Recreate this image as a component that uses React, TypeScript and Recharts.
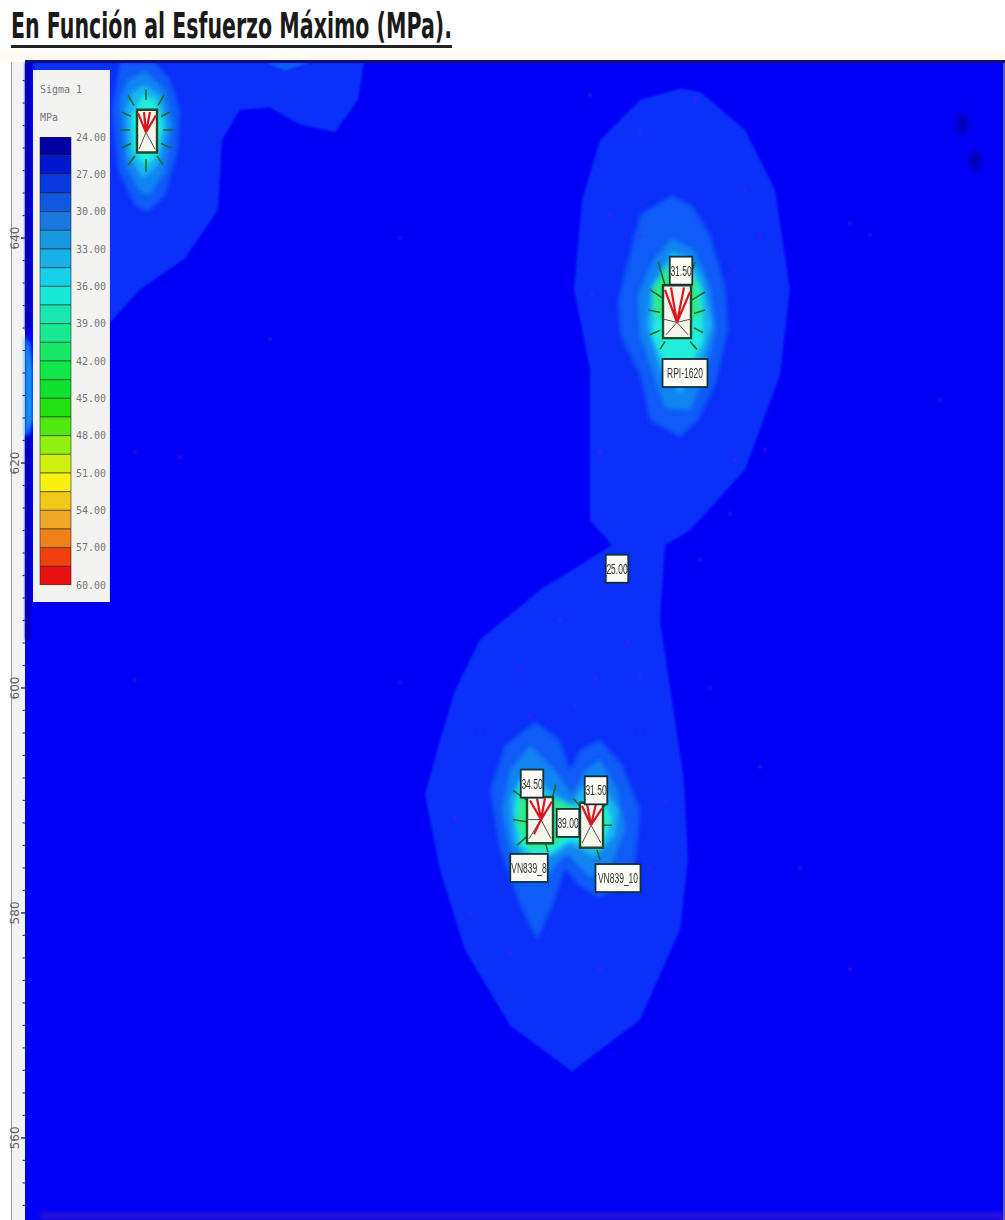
import { Bar, BarChart, Scatter, ScatterChart, XAxis, YAxis } from "recharts";

// x is the horizontal position along the plan (no scale printed), y is the ruler on the left
type Pair = [number, number];

const xRange: Pair = [25, 1005];
const yRange: Pair = [552.7, 655.65];
const yTicks = [
  554, 556, 558, 560, 562, 564, 566, 568, 570, 572, 574, 576, 578, 580, 582, 584, 586, 588, 590, 592, 594, 596, 598,
  600, 602, 604, 606, 608, 610, 612, 614, 616, 618, 620, 622, 624, 626, 628, 630, 632, 634, 636, 638, 640, 642, 644,
  646, 648, 650, 652, 654
];

const background: Pair[] = [[25, 655.65], [1005, 655.65], [1005, 552.7], [25, 552.7]];

const outerMain: Pair[] = [
  [680, 653.3], [640, 652.3], [600, 648.7], [582, 643.4], [574, 635.4], [590, 628.3], [590, 620.3], [590, 614.9],
  [612, 612.7], [540, 608.7], [480, 604.3], [455, 599.8], [440, 595.4], [425, 590.5], [440, 583.8], [465, 576.7],
  [510, 570.0], [572, 565.9], [640, 570.5], [680, 578.5], [688, 584.7], [684, 591.8], [672, 598.9], [660, 606.0],
  [665, 612.7], [690, 614.0], [745, 619.4], [780, 627.8], [790, 635.4], [775, 644.3], [745, 649.6], [700, 653.0]
];
const outerCorner: Pair[] = [
  [110, 632.5], [140, 635.4], [185, 638.2], [218, 642.5], [222, 648.7], [240, 651.4], [270, 651.6], [300, 650.1],
  [335, 649.4], [358, 652.3], [364, 655.6], [33, 655.6], [33, 625.6]
];
const topSliver: Pair[] = [[265, 655.6], [285, 654.9], [310, 655.6]];
const edgePatch: Pair[] = [[25, 631.4], [30, 630.5], [33, 628.3], [33, 623.8], [28, 622.5], [25, 622.5]];
const edgeStripTop: Pair[] = [[25, 655.6], [32, 655.6], [32, 631.8], [25, 631.8]];
const edgeStripLow: Pair[] = [[25, 622.5], [31, 622.5], [31, 604.3], [25, 604.3]];
const bottomStrip: Pair[] = [[40, 553.4], [1005, 553.4], [1005, 552.7], [40, 552.7]];

const cornerLevels: Pair[][] = [
  [[112, 651.4], [118, 646.0], [135, 642.9], [148, 642.3], [165, 643.8], [178, 647.8], [180, 651.4], [170, 654.1], [155, 655.6], [120, 655.6]],
  [[120, 652.3], [125, 646.5], [140, 644.1], [150, 643.8], [165, 646.0], [173, 650.1], [165, 653.2], [145, 654.8], [128, 654.1]],
  [[126, 651.4], [128, 647.4], [143, 645.3], [158, 646.5], [168, 650.1], [160, 652.7], [145, 653.6], [132, 653.0]],
  [[132, 650.9], [133, 647.8], [145, 646.4], [157, 647.4], [163, 650.1], [155, 652.3], [143, 652.7]]
];
const upperLevels: Pair[][] = [
  [[672, 643.8], [640, 642.1], [632, 639.4], [618, 634.5], [620, 631.4], [640, 627.8], [650, 623.8], [680, 622.3], [698, 623.8], [715, 626.9], [728, 631.8], [725, 635.8], [710, 640.3], [692, 642.9]],
  [[672, 640.0], [652, 637.9], [638, 634.9], [640, 631.4], [655, 627.4], [665, 624.9], [690, 624.7], [705, 627.8], [716, 631.8], [710, 635.8], [695, 638.9]],
  [[672, 638.8], [652, 635.8], [647, 632.3], [660, 628.4], [680, 626.3], [700, 628.4], [712, 632.3], [703, 636.3], [690, 638.2]],
  [[675, 637.9], [657, 635.2], [652, 631.4], [665, 628.7], [685, 627.7], [703, 630.9], [702, 635.2], [690, 637.3]],
  [[668, 637.6], [652, 635.4], [655, 632.9], [700, 632.9], [698, 635.8], [684, 637.6]]
];
const lowerLevels: Pair[][] = [
  [[535, 597.0], [560, 595.4], [570, 592.7], [580, 594.5], [600, 595.4], [622, 593.2], [640, 589.2], [636, 584.7], [618, 582.2], [598, 581.4], [578, 582.5], [565, 584.0], [553, 580.7], [537, 577.6], [520, 580.7], [500, 585.6], [490, 590.9], [505, 594.9]],
  [[530, 594.9], [510, 592.7], [502, 589.2], [510, 585.6], [530, 582.9], [545, 582.9], [560, 584.7], [568, 585.2], [590, 583.1], [612, 584.3], [625, 587.4], [618, 590.9], [600, 593.6], [585, 592.7], [572, 590.5], [555, 592.7]],
  [[525, 592.7], [510, 590.1], [513, 586.5], [530, 584.3], [555, 585.2], [570, 586.1], [595, 584.9], [615, 586.9], [618, 589.2], [600, 591.8], [580, 590.9], [572, 589.6], [550, 590.9]],
  [[520, 591.8], [515, 589.2], [520, 586.1], [540, 584.7], [570, 586.5], [600, 585.6], [612, 588.3], [600, 590.9], [585, 590.1], [570, 588.7], [550, 590.1]],
  [[520, 590.9], [517, 587.8], [530, 585.6], [555, 586.1], [570, 587.2], [585, 586.1], [605, 587.8], [595, 590.1], [580, 589.2], [555, 590.1]]
];
const levelColors = ["#0f5cf8", "#1184f2", "#17b6f0", "#22ecdc", "#2ee88c"];

const pillars: Pair[][] = [
  [[137, 651.4], [157, 651.4], [157, 647.6], [137, 647.6]],
  [[663, 635.8], [691, 635.8], [691, 631.1], [663, 631.1]],
  [[527, 590.3], [553, 590.3], [553, 586.2], [527, 586.2]],
  [[580, 589.8], [603, 589.8], [603, 585.8], [580, 585.8]]
];

// endpoints taken two by two
const greenTicks: Pair[] = [
  [146, 653.2], [146, 652.3], [128, 652.7], [134, 651.8], [122, 651.2], [131, 650.8], [120, 649.6], [130, 649.6],
  [122, 648.0], [131, 648.4], [128, 646.5], [135, 647.3], [146, 645.9], [146, 647.0], [163, 646.5], [157, 647.3],
  [171, 648.0], [161, 648.4], [173, 649.6], [163, 649.6], [170, 651.2], [161, 650.8], [164, 652.7], [158, 651.8],
  [658, 637.9], [665, 635.8], [695, 637.9], [688, 635.8], [650, 635.4], [662, 634.7], [705, 635.2], [692, 634.5],
  [648, 633.6], [660, 633.4], [705, 633.6], [694, 633.3], [650, 631.4], [660, 631.8], [703, 631.6], [694, 632.0],
  [660, 630.1], [665, 630.8], [697, 630.1], [690, 630.8],
  [513, 590.9], [527, 590.0], [513, 588.3], [526, 588.1], [517, 586.0], [527, 586.8], [556, 591.4], [552, 590.2],
  [548, 585.4], [546, 586.1], [608, 590.0], [602, 589.2], [612, 587.8], [604, 587.8], [573, 590.2], [581, 589.4],
  [600, 584.7], [597, 585.6]
];
const redFans: Pair[] = [
  [146, 649.4], [138, 651.1], [146, 649.4], [144, 651.2], [146, 649.4], [150, 651.2], [146, 649.4], [156, 650.9],
  [677, 632.5], [665, 635.4], [677, 632.5], [671, 635.6], [677, 632.5], [684, 635.6], [677, 632.5], [690, 635.2],
  [541, 588.3], [530, 590.0], [541, 588.3], [537, 590.2], [541, 588.3], [545, 590.2], [541, 588.3], [552, 589.9],
  [541, 588.3], [534, 587.0], [591, 587.8], [582, 589.5], [591, 587.8], [587, 589.7], [591, 587.8], [596, 589.7],
  [591, 587.8], [602, 589.3]
];
const darkSpokes: Pair[] = [
  [146, 649.4], [139, 647.9], [146, 649.4], [155, 647.9], [677, 632.5], [666, 631.4], [677, 632.5], [688, 631.4],
  [677, 632.5], [663, 632.8], [677, 632.5], [691, 632.8], [541, 588.3], [529, 586.6], [541, 588.3], [551, 586.6],
  [541, 588.3], [527, 588.3], [591, 587.8], [582, 586.2], [591, 587.8], [601, 586.2]
];
const faintDots: Pair[] = [
  [590, 652.7], [640, 649.3], [696, 652.4], [745, 644.3], [850, 641.3], [870, 640.3], [940, 625.6], [765, 621.2],
  [735, 620.3], [592, 635.0], [700, 611.4], [760, 640.0], [610, 642.0], [640, 640.2], [735, 637.0], [760, 632.0],
  [600, 621.0], [730, 615.5], [560, 606.0], [595, 600.9], [628, 604.0], [640, 601.0], [520, 601.5], [480, 596.0],
  [455, 588.4], [470, 580.0], [510, 576.5], [560, 571.5], [600, 575.0], [650, 584.0], [665, 590.0], [640, 596.0],
  [710, 600.0], [760, 593.0], [800, 584.0], [530, 597.5], [575, 598.5], [400, 600.5], [180, 620.5], [135, 600.7],
  [270, 631.0], [135, 621.0], [400, 640.0], [850, 575.0]
];
const darkSpots: Pair[] = [[962, 650.1], [975, 646.9]];

const labels = [
  { x: 681, y: 637.1, text: "31.50" },
  { x: 685, y: 628.0, text: "RPI-1620" },
  { x: 617, y: 610.6, text: "25.00" },
  { x: 532, y: 591.5, text: "34.50" },
  { x: 568, y: 588.0, text: "39.00" },
  { x: 596, y: 590.9, text: "31.50" },
  { x: 529, y: 584.0, text: "VN839_8" },
  { x: 618, y: 583.1, text: "VN839_10" }
];

const legendTicks = [24, 27, 30, 33, 36, 39, 42, 45, 48, 51, 54, 57, 60];
const legendBands = [
  "#0000a0", "#0018d0", "#0838e0", "#1058e0", "#1878e0", "#1898e0", "#18b0e8", "#18d0e8",
  "#18e8d8", "#18e8b0", "#18e890", "#18e868", "#10e848", "#10e030", "#20e010", "#50e810",
  "#90f010", "#d0f010", "#f8f010", "#f0c818", "#f0a828", "#f08018", "#f04010", "#e81010"
];
const legendStart = 24;
const legendStep = 1.5;

const rows = (pairs: Pair[]) => pairs.map(([x, y]) => ({ x, y }));
const noDot = () => <g />;

function polygon(fill: string, blur: number, stroke = "none", strokeWidth = 0) {
  return (props: { points?: { x: number; y: number }[] }) => {
    const d = (props.points ?? []).map((p, i) => `${i ? "L" : "M"}${p.x} ${p.y}`).join(" ") + " Z";
    return (
      <path d={d} fill={fill} stroke={stroke} strokeWidth={strokeWidth} style={blur ? { filter: `blur(${blur}px)` } : undefined} />
    );
  };
}

function segments(stroke: string, strokeWidth: number) {
  return (props: { points?: { x: number; y: number }[] }) => {
    const d = (props.points ?? []).map((p, i) => `${i % 2 ? "L" : "M"}${p.x} ${p.y}`).join(" ");
    return <path d={d} fill="none" stroke={stroke} strokeWidth={strokeWidth} style={{ filter: "blur(0.5px)" }} />;
  };
}

function rulerTick({ x, y, payload }: { x: number; y: number; payload: { value: number } }) {
  const major = payload.value % 20 === 0;
  return (
    <g>
      <line x1={x - (major ? 4 : 2.5)} x2={x} y1={y} y2={y} stroke="#444" strokeWidth={major ? 1.6 : 1.2} />
      {major && (
        <text x={15} y={y} transform={`rotate(-90 15 ${y})`} textAnchor="middle" dominantBaseline="central" fontSize={12} fontFamily="DejaVu Sans" fill="#666">
          {payload.value}
        </text>
      )}
    </g>
  );
}

function labelBox(props: { cx?: number; cy?: number; payload?: { text: string } }) {
  const { cx = 0, cy = 0, payload } = props;
  const text = payload?.text ?? "";
  const w = 7.5 * text.length - 15;
  return (
    <g style={{ filter: "blur(0.5px)" }}>
      <rect x={cx - w / 2} y={cy - 14} width={w} height={28} fill="#fbfbf6" stroke="#10303a" strokeWidth={1.8} />
      <text transform={`translate(${cx} ${cy + 5}) scale(1 1.7)`} textAnchor="middle" fontSize={8.5} fontFamily="Liberation Sans" fill="#333">
        {text}
      </text>
    </g>
  );
}

const legendRow = [
  { name: "Sigma 1", base: legendStart, ...Object.fromEntries(legendBands.map((_, i) => [`band${i}`, legendStep])) }
];

export default function App() {
  const poly = (pairs: Pair[], fill: string, blur = 0, key?: string, stroke?: string, strokeWidth?: number) => (
    <Scatter
      key={key ?? fill + pairs[0].join()}
      data={rows(pairs)}
      dataKey="y"
      line={polygon(fill, blur, stroke, strokeWidth)}
      shape={noDot}
      isAnimationActive={false}
    />
  );

  return (
    <div style={{ position: "absolute", left: 0, top: 0, width: 1005, height: 1220, background: "#fff", overflow: "hidden" }}>
      <svg width={1005} height={62} style={{ position: "absolute", left: 0, top: 0 }}>
        <rect x={0} y={50} width={1005} height={12} fill="#fdfbf3" />
        <text x={11} y={38} fontSize={35} fontWeight="bold" fontFamily="DejaVu Sans" fill="#1a1a1a" textLength={441} lengthAdjust="spacingAndGlyphs">
          En Función al Esfuerzo Máximo (MPa).
        </text>
        <rect x={11} y={45} width={441} height={3} fill="#222" />
      </svg>
      <div style={{ position: "absolute", left: 11, top: 62, width: 14, height: 1158, background: "#f1f1f1", borderLeft: "1px solid #999", boxSizing: "border-box" }} />
      <div style={{ position: "absolute", left: 0, top: 0 }}>
        <ScatterChart width={1005} height={1220} margin={{ top: 62, right: 0, bottom: 0, left: 11 }}>
          <XAxis type="number" dataKey="x" domain={xRange} hide />
          <YAxis
            type="number"
            dataKey="y"
            domain={yRange}
            ticks={yTicks}
            interval={0}
            width={14}
            axisLine={false}
            tickLine={false}
            tickSize={0}
            tickMargin={0}
            tick={rulerTick}
            allowDataOverflow
          />
          {poly(background, "#0000f6")}
          {poly(edgeStripTop, "#0000c4", 1)}
          {poly(edgeStripLow, "#0000c4", 1)}
          {poly(edgePatch, "#1a9cf0", 2)}
          {poly(bottomStrip, "#2a10d8", 2)}
          {poly(outerCorner, "#0a30fa", 1)}
          {poly(topSliver, "#0f5cf8", 1)}
          {poly(outerMain, "#0a30fa", 1)}
          {cornerLevels.map((pairs, i) => poly(pairs, levelColors[i], 2, `corner${i}`))}
          {upperLevels.map((pairs, i) => poly(pairs, levelColors[i], 2, `upper${i}`))}
          {lowerLevels.map((pairs, i) => poly(pairs, levelColors[i], 2, `lower${i}`))}
          <Scatter data={rows(greenTicks)} dataKey="y" line={segments("#1c6a28", 1.6)} shape={noDot} isAnimationActive={false} />
          {pillars.map((pairs, i) => poly(pairs, "#f8f4ee", 0, `pillar${i}`, "#1f4a2a", 2.4))}
          <Scatter data={rows(darkSpokes)} dataKey="y" line={segments("#4a5a50", 1)} shape={noDot} isAnimationActive={false} />
          <Scatter data={rows(redFans)} dataKey="y" line={segments("#d81820", 2.2)} shape={noDot} isAnimationActive={false} />
          <Scatter
            data={rows(faintDots)}
            dataKey="y"
            shape={(p: { cx?: number; cy?: number }) => <circle cx={p.cx} cy={p.cy} r={2} fill="#5a24c8" opacity={0.55} style={{ filter: "blur(1px)" }} />}
            isAnimationActive={false}
          />
          <Scatter
            data={rows(darkSpots)}
            dataKey="y"
            shape={(p: { cx?: number; cy?: number }) => <ellipse cx={p.cx} cy={p.cy} rx={5} ry={10} fill="#000090" opacity={0.75} style={{ filter: "blur(3px)" }} />}
            isAnimationActive={false}
          />
          <Scatter data={labels} dataKey="y" shape={labelBox} isAnimationActive={false} />
        </ScatterChart>
      </div>
      <div style={{ position: "absolute", left: 33, top: 70, width: 77, height: 532, background: "#f2f2f0", borderRight: "1px solid #e0e0e8", boxSizing: "border-box", fontFamily: "DejaVu Sans Mono", fontSize: 10, color: "#777" }}>
        <div style={{ position: "absolute", left: 7, top: 14 }}>Sigma 1</div>
        <div style={{ position: "absolute", left: 7, top: 42 }}>MPa</div>
        <BarChart width={76} height={532} data={legendRow} margin={{ top: 67, right: 0, bottom: 17, left: 7 }} barCategoryGap={0}>
          <XAxis dataKey="name" hide />
          <YAxis
            type="number"
            orientation="right"
            reversed
            domain={[24, 60]}
            allowDataOverflow
            ticks={legendTicks}
            interval={0}
            width={38}
            axisLine={false}
            tickLine={false}
            tickSize={0}
            tickMargin={5}
            tickFormatter={(v: number) => v.toFixed(2)}
            tick={{ fontSize: 10, fontFamily: "DejaVu Sans Mono", fill: "#777" }}
          />
          <Bar dataKey="base" stackId="bands" fill="none" isAnimationActive={false} />
          {legendBands.map((color, i) => (
            <Bar key={color} dataKey={`band${i}`} stackId="bands" fill={color} stroke="#222" strokeOpacity={0.55} isAnimationActive={false} />
          ))}
        </BarChart>
      </div>
      <div style={{ position: "absolute", left: 1003, top: 62, width: 2, height: 1158, background: "#5a5ab8" }} />
      <div style={{ position: "absolute", left: 25, top: 60, width: 980, height: 3, background: "#10107a", filter: "blur(0.6px)" }} />
    </div>
  );
}
